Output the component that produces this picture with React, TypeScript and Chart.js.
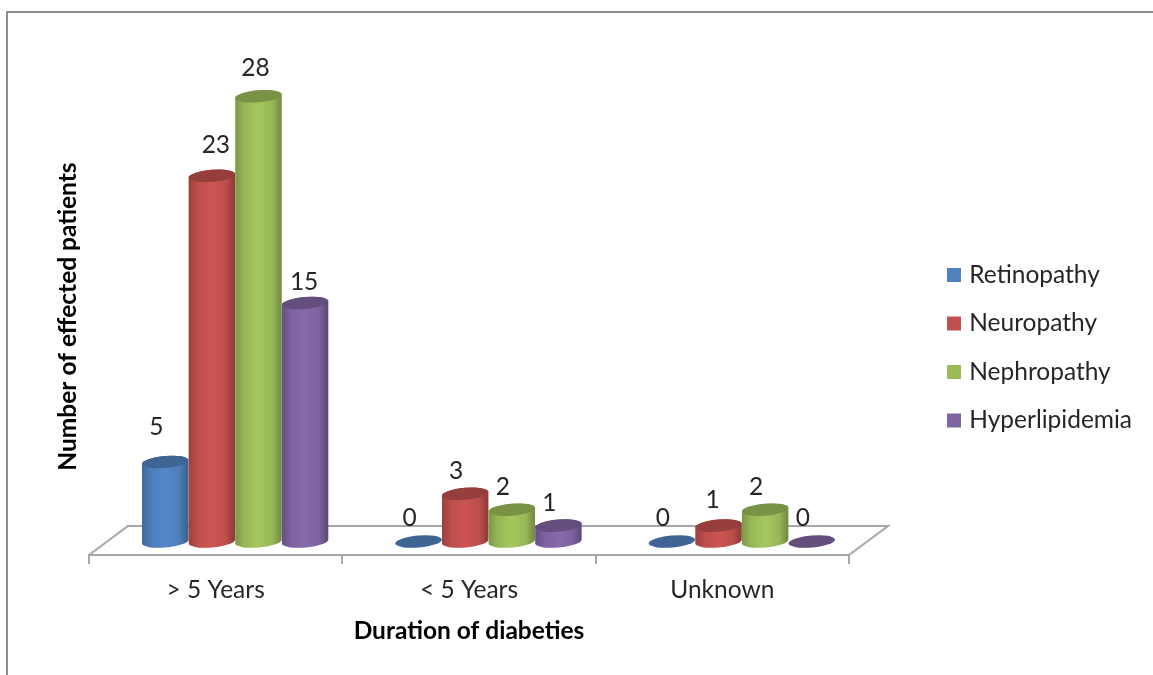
import React, { useEffect, useRef } from "react";
import { Chart, registerables } from "chart.js";

Chart.register(...registerables);

const categories = ["> 5 Years", "< 5 Years", "Unknown"];
const retinopathy = [5, 0, 0];
const neuropathy = [23, 3, 1];
const nephropathy = [28, 2, 2];
const hyperlipidemia = [15, 1, 0];
const seriesNames = ["Retinopathy", "Neuropathy", "Nephropathy", "Hyperlipidemia"];
const seriesColors = ["#4F81BD", "#C0504D", "#9BBB59", "#8064A2"];
const xTitle = "Duration of diabeties";
const yTitle = "Number of effected patients";

const FONT = "Lato, Carlito, 'Noto Sans', sans-serif";
const FONT_SIZE = 24.5;
const TEXT = "#262626";
const LINE = "#a6a6a6";
const DEPTH_X = 39;
const DEPTH_Y = 29;

function shade(hex: string, f: number) {
  const n = parseInt(hex.slice(1), 16);
  const ch = [(n >> 16) & 255, (n >> 8) & 255, n & 255];
  const out = ch.map((c) => Math.min(255, Math.round(c * (1 + f))));
  return `rgb(${out[0]},${out[1]},${out[2]})`;
}

// Label offsets that differ from the default, keyed "dataset:index"
const labelNudge: Record<string, [number, number]> = {
  "0:0": [0, -12],
  "1:0": [13, -8],
  "2:0": [6, -5],
  "3:0": [8, 2],
  "1:2": [3, -3],
};

const cylinderPlugin = {
  id: "cylinders",
  beforeDatasetDraw() {
    return false;
  },
  afterLayout(chart: any) {
    const l = chart.legend;
    const pad = l.options.labels.padding;
    l.left = 951 - pad;
    l.right = l.left + 300;
    l.top = 262.75 - pad;
    l.bottom = l.top + 300;
  },
  afterDatasetsDraw(chart: any) {
    const { ctx, chartArea: a } = chart;
    ctx.save();
    // floor
    ctx.strokeStyle = LINE;
    ctx.lineWidth = 2;
    ctx.beginPath();
    ctx.moveTo(a.left, a.bottom);
    ctx.lineTo(a.left + DEPTH_X, a.bottom - DEPTH_Y);
    ctx.lineTo(a.right + DEPTH_X, a.bottom - DEPTH_Y);
    ctx.lineTo(a.right, a.bottom);
    ctx.stroke();

    const rot = -0.085;
    const ry = 6;
    const sx = DEPTH_X / 2;
    const sy = DEPTH_Y / 2 - 1;
    chart.data.datasets.forEach((ds: any, i: number) => {
      const base = seriesColors[i];
      chart.getDatasetMeta(i).data.forEach((el: any, j: number) => {
        const cx = el.x + sx;
        const rx = el.width / 2;
        const yt = el.y - sy;
        const yb = el.base - sy;
        if (ds.data[j] > 0) {
          const g = ctx.createLinearGradient(cx - rx, 0, cx + rx, 0);
          g.addColorStop(0, shade(base, -0.2));
          g.addColorStop(0.2, shade(base, -0.02));
          g.addColorStop(0.5, shade(base, 0.06));
          g.addColorStop(0.8, shade(base, -0.02));
          g.addColorStop(1, shade(base, -0.28));
          ctx.fillStyle = g;
          ctx.beginPath();
          ctx.ellipse(cx, yb, rx, ry, rot, 0, Math.PI);
          ctx.ellipse(cx, yt, rx, ry, rot, Math.PI, Math.PI * 2);
          ctx.closePath();
          ctx.fill();
        }
        ctx.fillStyle = shade(base, -0.22);
        ctx.beginPath();
        ctx.ellipse(cx, yt, rx, ry, rot, 0, Math.PI * 2);
        ctx.fill();
      });
    });

    // value labels
    ctx.fillStyle = TEXT;
    ctx.font = `${FONT_SIZE}px ${FONT}`;
    ctx.textAlign = "center";
    ctx.textBaseline = "middle";
    chart.data.datasets.forEach((ds: any, i: number) => {
      chart.getDatasetMeta(i).data.forEach((el: any, j: number) => {
        const [nx, ny] = labelNudge[`${i}:${j}`] || [0, 0];
        ctx.fillText(
          String(ds.data[j]),
          el.x + sx - 9 + nx,
          el.y - sy - 23 + ny
        );
      });
    });
    ctx.restore();
  },
};

export default function App() {
  const ref = useRef<HTMLCanvasElement>(null);
  useEffect(() => {
    const values = [retinopathy, neuropathy, nephropathy, hyperlipidemia];
    const chart = new Chart(ref.current!, {
      type: "bar",
      data: {
        labels: categories,
        datasets: seriesNames.map((label, i) => ({
          label,
          data: values[i],
          backgroundColor: seriesColors[i],
          borderColor: seriesColors[i],
          borderWidth: 8,
          barPercentage: 1,
          categoryPercentage: 0.736,
        })),
      },
      options: {
        responsive: false,
        animation: false,
        layout: { padding: { left: 50, right: 304, top: 78, bottom: 20 } },
        plugins: {
          tooltip: { enabled: false },
          legend: {
            position: "chartArea" as any,
            align: "start",
            labels: {
              boxWidth: 6,
              boxHeight: 6,
              padding: 24,
              color: TEXT,
              font: { family: FONT, size: FONT_SIZE },
            },
          },
        },
        scales: {
          x: {
            afterFit: (s: any) => {
              s.height = 100;
            },
            grid: {
              drawOnChartArea: false,
              drawTicks: true,
              tickLength: 9,
              color: LINE,
              lineWidth: 2,
            },
            border: { color: LINE, width: 2 },
            ticks: {
              color: TEXT,
              font: { family: FONT, size: FONT_SIZE },
              padding: 11.5,
              maxRotation: 0,
            },
            title: {
              display: true,
              text: xTitle,
              color: "#000",
              font: { family: FONT, size: FONT_SIZE, weight: "bold" },
              padding: { top: 4, bottom: 9 },
            },
          },
          y: {
            min: 0,
            max: 30,
            afterFit: (s: any) => {
              s.width = 39;
            },
            grid: { display: false },
            border: { display: false },
            ticks: { display: false, stepSize: 5 },
            title: {
              display: true,
              text: yTitle,
              color: "#000",
              font: { family: FONT, size: FONT_SIZE, weight: "bold" },
              padding: { top: 3, bottom: 2 },
            },
          },
        },
      },
      plugins: [cylinderPlugin as any],
    });
    return () => chart.destroy();
  }, []);

  return (
    <div style={{ position: "fixed", left: 0, top: 0, width: 1153, height: 675, background: "#fff", overflow: "hidden" }}>
      <div
        style={{
          position: "absolute",
          left: 6,
          top: 11,
          right: 0,
          bottom: 0,
          borderTop: "2px solid #8e8e8e",
          borderLeft: "2px solid #8e8e8e",
        }}
      />
      <canvas ref={ref} width={1153} height={675} style={{ position: "absolute", left: 0, top: 0 }} />
    </div>
  );
}
